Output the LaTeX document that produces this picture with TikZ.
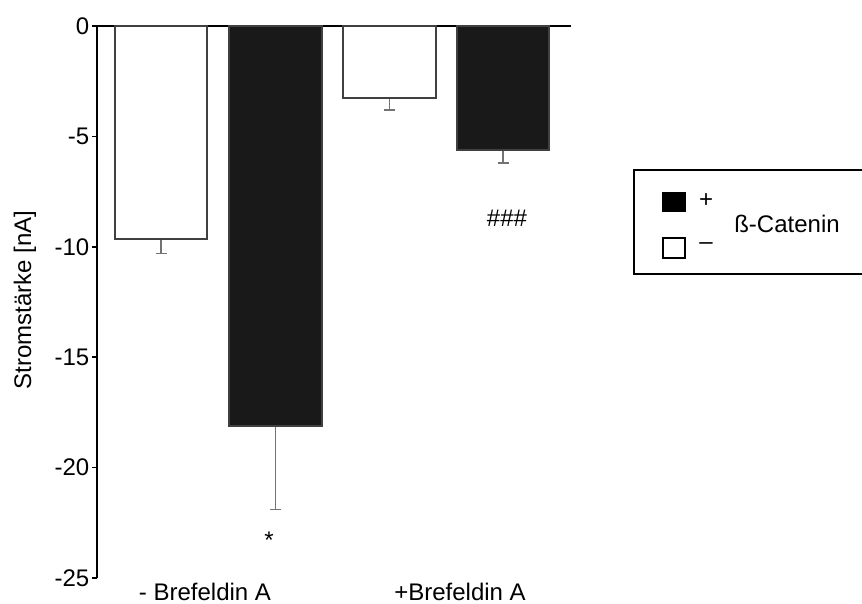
\documentclass[tikz,border=0pt]{standalone}
\usepackage{fontspec}
\setmainfont{Liberation Sans}

\begin{document}
\begin{tikzpicture}[x=0.5pt,y=-0.5pt,semithick,font=\fontsize{12}{14}\selectfont,
    barline/.style={draw=black!75,line width=1pt},
    errline/.style={draw=black!55,line width=0.8pt}]
    \useasboundingbox (0,0) rectangle (862,604);

    \draw[line width=1pt] (97,578) -- (97,26) -- (571,26);

    \foreach \v in {0,5,10,15,20,25}
    \draw[line width=0.8pt] (97,{26+22.08*\v}) -- (92,{26+22.08*\v})
        node[left,inner sep=1pt] (tick\v) {\ifnum\v=0 0\else -\v\fi};

    \foreach \n/\xl/\xr/\v/\e/\c in {a/115/207/9.64/10.3/white, b/229/322/18.1/21.9/black!90,
                                    c/343/436/3.26/3.8/white, d/457/549/5.6/6.2/black!90}
    {
        \pgfmathsetmacro\yb{26+22.08*\v}
        \pgfmathsetmacro\ye{26+22.08*\e}
        \pgfmathsetmacro\xm{(\xl+\xr)/2}
        \draw[errline] (\xm,\yb) -- (\xm,\ye) coordinate (err\n);
        \draw[errline] (\xm-5.5,\ye) -- (\xm+5.5,\ye);
        \filldraw[barline,fill=\c] (\xl,26) rectangle (\xr,\yb) coordinate (bar\n);
    }

    \node (star) at (269,540) {*};
    \node (hash) at (507,218) {\#\#\#};

    \node (minusbfa) at (205,592) {- Brefeldin A};
    \node (plusbfa) at (460,592) {+Brefeldin A};
    \node[rotate=90] (ylabel) at (25,300) {Stromstärke [nA]};

    % legend
    \draw[line width=0.8pt] (870,170) -- (634,170) -- (634,274) -- (870,274);
    \filldraw[black] (663,193) rectangle (685,211) coordinate (keyplus);
    \draw[line width=0.8pt] (663,238) rectangle (685,258) coordinate (keyminus);
    \node (plus) at (706,201) {+};
    \node (minus) at (706,246) {\textendash};
    \node (catenin) at (787,224) {ß-Catenin};
\end{tikzpicture}
\end{document}
